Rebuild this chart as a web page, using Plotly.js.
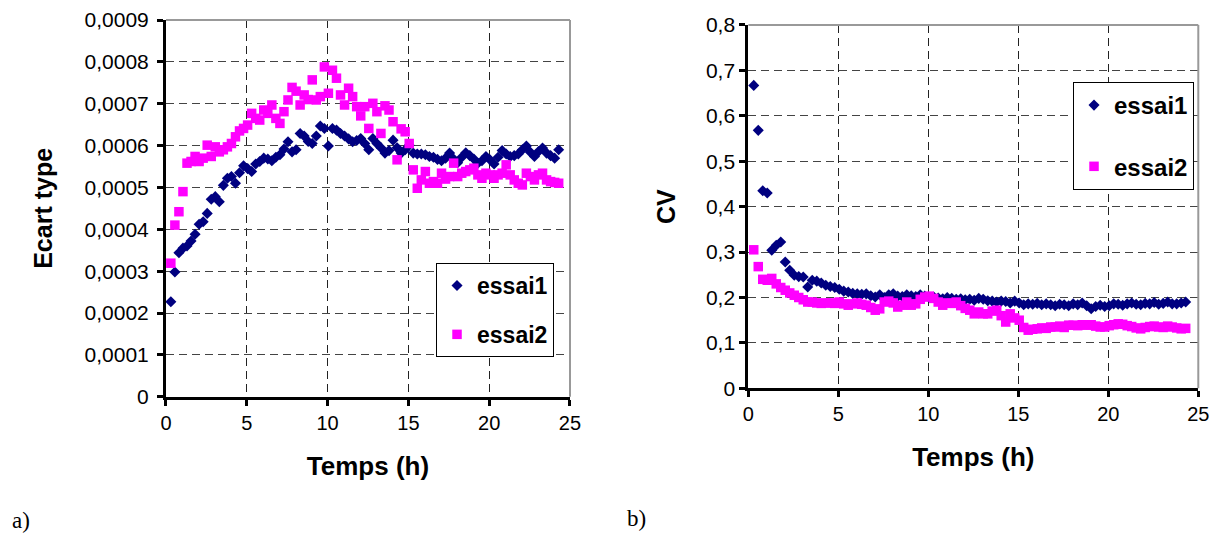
<!DOCTYPE html>
<html>
<head>
<meta charset="utf-8">
<script src="https://cdn.plot.ly/plotly-3.0.1.min.js"></script>
<style>html,body{margin:0;padding:0;background:#fff;}#chart{width:1221px;height:534px;}</style>
</head>
<body>
<div id="chart"></div>
<script>
// Time (h)
const temps = [0.3,0.55,0.8,1.05,1.3,1.55,1.8,2.05,2.3,2.55,2.8,3.05,3.3,3.55,3.8,4.05,4.3,4.55,4.8,5.05,
  5.3,5.55,5.8,6.05,6.3,6.55,6.8,7.05,7.3,7.55,7.8,8.05,8.3,8.55,8.8,9.05,9.3,9.55,9.8,10.05,
  10.3,10.55,10.8,11.05,11.3,11.55,11.8,12.05,12.3,12.55,12.8,13.05,13.3,13.55,13.8,14.05,14.3,14.55,14.8,15.05,
  15.3,15.55,15.8,16.05,16.3,16.55,16.8,17.05,17.3,17.55,17.8,18.05,18.3,18.55,18.8,19.05,19.3,19.55,19.8,20.05,
  20.3,20.55,20.8,21.05,21.3,21.55,21.8,22.05,22.3,22.55,22.8,23.05,23.3,23.55,23.8,24.05,24.3];

// a) Ecart type
const ecart_essai1 = [2.27e-4,2.98e-4,3.44e-4,3.55e-4,3.60e-4,3.72e-4,3.88e-4,4.12e-4,4.18e-4,4.38e-4,4.72e-4,4.78e-4,4.66e-4,5.05e-4,5.22e-4,5.26e-4,5.10e-4,5.35e-4,5.52e-4,5.45e-4,
  5.38e-4,5.56e-4,5.62e-4,5.70e-4,5.68e-4,5.64e-4,5.72e-4,5.78e-4,5.92e-4,6.09e-4,5.85e-4,5.90e-4,6.29e-4,6.23e-4,6.10e-4,6.05e-4,6.23e-4,6.47e-4,6.41e-4,5.99e-4,
  6.41e-4,6.37e-4,6.29e-4,6.23e-4,6.16e-4,6.09e-4,6.12e-4,6.17e-4,6.05e-4,5.90e-4,6.17e-4,6.05e-4,5.95e-4,5.82e-4,5.88e-4,6.13e-4,5.95e-4,5.82e-4,5.90e-4,6.01e-4,
  5.82e-4,5.80e-4,5.80e-4,5.78e-4,5.74e-4,5.72e-4,5.67e-4,5.64e-4,5.70e-4,5.82e-4,5.68e-4,5.59e-4,5.72e-4,5.83e-4,5.76e-4,5.68e-4,5.58e-4,5.64e-4,5.74e-4,5.66e-4,
  5.56e-4,5.72e-4,5.88e-4,5.80e-4,5.74e-4,5.76e-4,5.80e-4,5.90e-4,5.99e-4,5.84e-4,5.74e-4,5.86e-4,5.94e-4,5.82e-4,5.76e-4,5.70e-4,5.90e-4];
const ecart_essai2 = [3.19e-4,4.10e-4,4.42e-4,4.90e-4,5.58e-4,5.62e-4,5.74e-4,5.62e-4,5.70e-4,6.01e-4,5.74e-4,5.97e-4,5.85e-4,5.90e-4,5.97e-4,6.05e-4,6.21e-4,6.35e-4,6.41e-4,6.49e-4,
  6.77e-4,6.65e-4,6.61e-4,6.85e-4,6.77e-4,6.97e-4,6.65e-4,6.53e-4,6.81e-4,7.09e-4,7.39e-4,7.30e-4,6.97e-4,7.21e-4,7.10e-4,7.57e-4,7.09e-4,7.17e-4,7.88e-4,7.25e-4,
  7.80e-4,7.61e-4,7.21e-4,6.97e-4,7.37e-4,7.17e-4,6.93e-4,6.71e-4,6.93e-4,6.41e-4,7.01e-4,6.81e-4,6.29e-4,6.95e-4,6.85e-4,6.57e-4,5.66e-4,6.40e-4,6.33e-4,6.05e-4,
  5.42e-4,4.98e-4,5.18e-4,5.38e-4,5.10e-4,5.14e-4,5.10e-4,5.34e-4,5.20e-4,5.26e-4,5.58e-4,5.26e-4,5.34e-4,5.38e-4,5.42e-4,5.46e-4,5.30e-4,5.22e-4,5.34e-4,5.30e-4,
  5.22e-4,5.30e-4,5.34e-4,5.54e-4,5.30e-4,5.18e-4,5.10e-4,5.06e-4,5.34e-4,5.26e-4,5.18e-4,5.30e-4,5.34e-4,5.18e-4,5.14e-4,5.12e-4,5.10e-4];

// b) CV
const cv_essai1 = [0.667,0.568,0.435,0.430,0.304,0.315,0.322,0.278,0.260,0.249,0.246,0.245,0.223,0.238,0.236,0.232,0.227,0.224,0.222,0.218,
  0.214,0.212,0.209,0.208,0.207,0.208,0.204,0.201,0.206,0.200,0.206,0.208,0.203,0.202,0.206,0.204,0.202,0.206,0.203,0.200,
  0.201,0.199,0.197,0.200,0.198,0.196,0.197,0.195,0.196,0.194,0.198,0.196,0.193,0.192,0.190,0.192,0.191,0.188,0.192,0.188,
  0.184,0.186,0.185,0.187,0.184,0.186,0.184,0.182,0.185,0.184,0.182,0.186,0.184,0.188,0.182,0.175,0.180,0.183,0.180,0.182,
  0.186,0.185,0.183,0.186,0.188,0.185,0.184,0.187,0.186,0.189,0.185,0.187,0.190,0.186,0.186,0.188,0.190];
const cv_essai2 = [0.305,0.268,0.240,0.238,0.242,0.230,0.222,0.216,0.210,0.205,0.200,0.195,0.190,0.190,0.188,0.187,0.188,0.188,0.187,0.190,
  0.186,0.183,0.186,0.188,0.185,0.183,0.178,0.172,0.175,0.190,0.192,0.188,0.179,0.183,0.190,0.183,0.186,0.196,0.201,0.203,
  0.198,0.190,0.183,0.188,0.187,0.190,0.182,0.176,0.172,0.164,0.168,0.164,0.164,0.170,0.172,0.160,0.146,0.164,0.155,0.150,
  0.134,0.128,0.130,0.131,0.133,0.132,0.135,0.135,0.137,0.134,0.139,0.139,0.138,0.140,0.139,0.140,0.137,0.135,0.135,0.138,
  0.140,0.142,0.141,0.138,0.136,0.133,0.131,0.134,0.136,0.137,0.135,0.134,0.137,0.135,0.133,0.131,0.132];

const seriesNames = ['essai1','essai2'];
const ecartTickVals = [0,0.0001,0.0002,0.0003,0.0004,0.0005,0.0006,0.0007,0.0008,0.0009];
const ecartTickText = ['0','0,0001','0,0002','0,0003','0,0004','0,0005','0,0006','0,0007','0,0008','0,0009'];
const xTickVals = [0,5,10,15,20,25];

const NAVY = '#000080', MAGENTA = '#FF00FF';
const FONT = 'Liberation Sans, Arial, sans-serif';

function mk(x, y, name, sym, color, size, xa, ya, legend, group, show) {
  return {x: x, y: y, type: 'scatter', mode: 'markers', name: name,
    marker: {symbol: sym, color: color, size: size, line: {width: 0}},
    xaxis: xa, yaxis: ya, legend: legend, legendgroup: group, showlegend: show, cliponaxis: false,
    hoverinfo: 'x+y'};
}

const traces = [
  mk(temps, ecart_essai1, seriesNames[0], 'diamond', NAVY, 8.5, 'x', 'y', 'legend', 'a1', true),
  mk(temps, ecart_essai2, seriesNames[1], 'square', MAGENTA, 9.5, 'x', 'y', 'legend', 'a2', true),
  mk(temps, cv_essai1, seriesNames[0], 'diamond', NAVY, 8.5, 'x2', 'y2', 'legend2', 'b1', true),
  mk(temps, cv_essai2, seriesNames[1], 'square', MAGENTA, 9.5, 'x2', 'y2', 'legend2', 'b2', true)
];

const gridDash = '8px,5px';
function xaxisDef(domain, anchor, fsize, standoff) {
  return {domain: domain, anchor: anchor, range: [0,25], tickvals: xTickVals,
    showgrid: true, gridcolor: '#222', griddash: gridDash, gridwidth: 1,
    showline: true, linecolor: '#000', linewidth: 3, zeroline: false,
    ticks: 'outside', ticklen: 6, tickwidth: 3, tickcolor: '#000',
    tickfont: {family: FONT, size: fsize, color: '#000'},
    title: {text: 'Temps (h)', font: {family: FONT, size: 26, color: '#000', weight: 'bold'}, standoff: standoff},
    fixedrange: true};
}

const layout = {
  width: 1221, height: 534,
  margin: {l: 0, r: 0, t: 0, b: 0},
  paper_bgcolor: '#fff', plot_bgcolor: '#fff',
  separators: ', ',
  font: {family: FONT, color: '#000'},
  xaxis: xaxisDef([0.13595, 0.46683], 'y', 20, 25),
  yaxis: {domain: [0.2571, 0.9625], anchor: 'x', range: [0, 0.0009],
    tickvals: ecartTickVals, ticktext: ecartTickText,
    showgrid: true, gridcolor: '#444', griddash: gridDash, gridwidth: 1,
    showline: true, linecolor: '#000', linewidth: 3, zeroline: false,
    ticks: 'outside', ticklen: 6, tickwidth: 3, tickcolor: '#000', ticklabelstandoff: 4,
    tickfont: {family: FONT, size: 21, color: '#000'},
    title: {text: 'Ecart type', font: {family: FONT, size: 25, color: '#000', weight: 'bold'}, standoff: 25},
    fixedrange: true},
  xaxis2: xaxisDef([0.6129, 0.9814], 'y2', 20, 24),
  yaxis2: {domain: [0.2728, 0.9532], anchor: 'x2', range: [0, 0.8], dtick: 0.1, tick0: 0,
    showgrid: true, gridcolor: '#444', griddash: gridDash, gridwidth: 1,
    showline: true, linecolor: '#000', linewidth: 3, zeroline: false,
    ticks: 'outside', ticklen: 6, tickwidth: 3, tickcolor: '#000',
    tickfont: {family: FONT, size: 21, color: '#000'},
    title: {text: 'CV', font: {family: FONT, size: 25, color: '#000', weight: 'bold'}, standoff: 24},
    fixedrange: true},
  legend: {x: 0.3571, y: 0.5075, xanchor: 'left', yanchor: 'top', bgcolor: '#fff',
    bordercolor: '#000', borderwidth: 1, tracegroupgap: 16,
    font: {family: FONT, size: 23, color: '#000', weight: 'bold'}},
  legend2: {x: 0.8788, y: 0.8464, xanchor: 'left', yanchor: 'top', bgcolor: '#fff',
    bordercolor: '#000', borderwidth: 1, tracegroupgap: 27,
    font: {family: FONT, size: 24, color: '#000', weight: 'bold'}},
  shapes: [
    {type: 'line', xref: 'x domain', yref: 'y domain', x0: 0, x1: 1, y0: 1, y1: 1, line: {color: '#999', width: 2}},
    {type: 'line', xref: 'x domain', yref: 'y domain', x0: 1, x1: 1, y0: 0, y1: 1, line: {color: '#999', width: 2}},
    {type: 'line', xref: 'x2 domain', yref: 'y2 domain', x0: 0, x1: 1, y0: 1, y1: 1, line: {color: '#999', width: 2}},
    {type: 'line', xref: 'x2 domain', yref: 'y2 domain', x0: 1, x1: 1, y0: 0, y1: 1, line: {color: '#999', width: 2}}
  ],
  annotations: [
    {text: 'a)', xref: 'paper', yref: 'paper', x: 10/1221, y: (534-520)/534, xanchor: 'left', yanchor: 'middle',
      showarrow: false, font: {family: 'Liberation Serif, Times New Roman, serif', size: 23, color: '#000'}},
    {text: 'b)', xref: 'paper', yref: 'paper', x: 625/1221, y: (534-518)/534, xanchor: 'left', yanchor: 'middle',
      showarrow: false, font: {family: 'Liberation Serif, Times New Roman, serif', size: 23, color: '#000'}}
  ]
};

Plotly.newPlot('chart', traces, layout, {displayModeBar: false, staticPlot: true});
</script>
</body>
</html>
